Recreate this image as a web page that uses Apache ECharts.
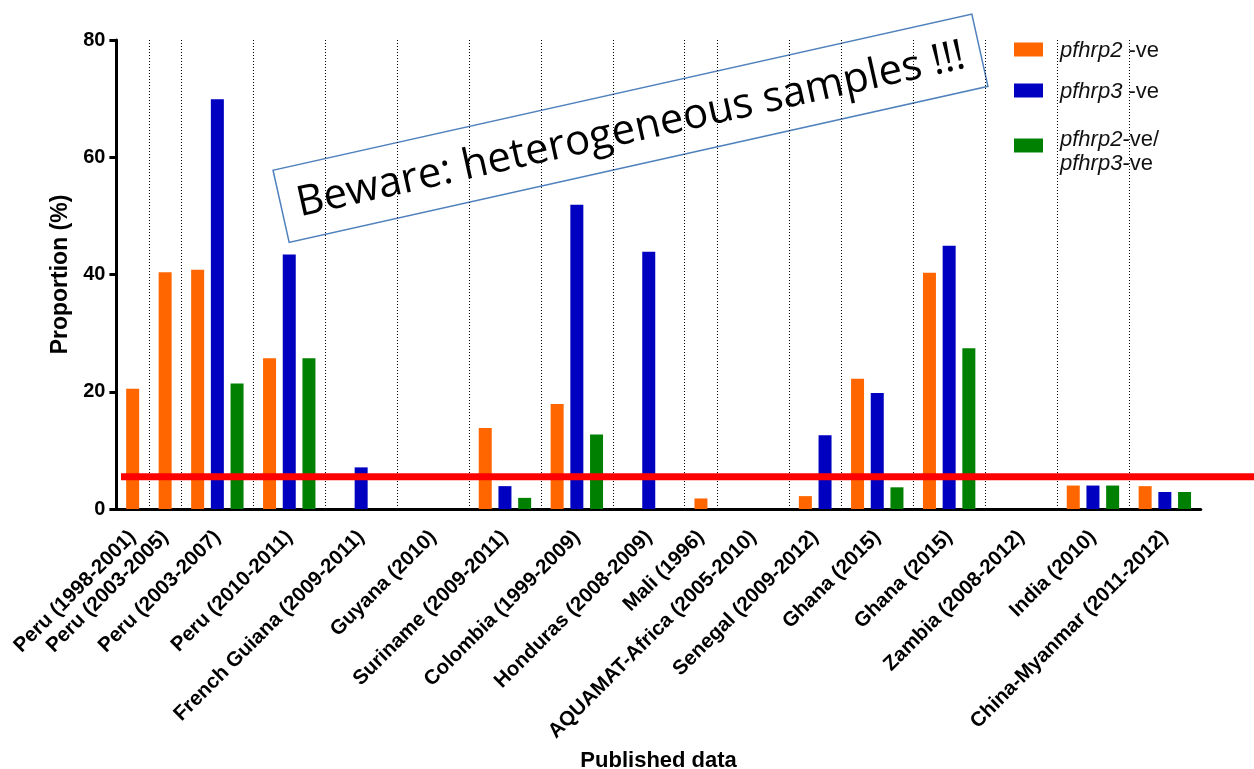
<!DOCTYPE html>
<html><head><meta charset="utf-8">
<script src="https://cdn.jsdelivr.net/npm/echarts@6/dist/echarts.min.js"></script>
<style>html,body{margin:0;padding:0;background:#fff}#c{width:1254px;height:769px}</style>
</head><body><div id="c"></div>
<script>
// ---- data ----
const categories = ['Peru (1998-2001)', 'Peru (2003-2005)', 'Peru (2003-2007)', 'Peru (2010-2011)',
  'French Guiana (2009-2011)', 'Guyana (2010)', 'Suriname (2009-2011)', 'Colombia (1999-2009)',
  'Honduras (2008-2009)', 'Mali (1996)', 'AQUAMAT-Africa (2005-2010)', 'Senegal (2009-2012)',
  'Ghana (2015)', 'Ghana (2015)', 'Zambia (2008-2012)', 'India (2010)', 'China-Myanmar (2011-2012)'];
const groupSlots = [1, 1, 3, 3, 3, 3, 3, 3, 3, 1, 3, 2, 3, 3, 3, 3, 3];
const pfhrp2 = [20.5, 40.4, 40.8, 25.7, null, null, 13.8, 17.9, null, 1.8, null, 2.2, 22.2, 40.3, null, 4.0, 3.9];
const pfhrp3 = [null, null, 69.9, 43.4, 7.1, null, 3.9, 51.9, 43.9, null, null, 12.6, 19.8, 44.9, null, 4.0, 2.9];
const pfhrp23 = [null, null, 21.4, 25.7, null, null, 1.9, 12.7, null, null, null, null, 3.7, 27.4, null, 4.0, 2.9];
const seriesNames = ['pfhrp2 -ve', 'pfhrp3 -ve', 'pfhrp2-ve/ pfhrp3-ve'];
const yTicks = [0, 20, 40, 60, 80];
const thresholdValue = 5.5;

// ---- layout (axis units) ----
const SLOT = 19.7, PAD = 12.8;
const starts = [], centers = [];
let acc = 0;
groupSlots.forEach(n => { starts.push(acc); const w = n * SLOT + PAD; centers.push(acc + w / 2); acc += w; });
const total = acc;
const boundaries = starts.slice(1);
function barData(values, slotIdx) {
  const out = [];
  values.forEach((v, i) => {
    if (v == null) return;
    out.push([starts[i] + PAD / 2 + SLOT / 2 + slotIdx * SLOT, v]);
  });
  return out;
}
const colors = ['#FF6600', '#0000C0', '#008000'];
const FONT = 'Liberation Sans, Arial, sans-serif';

const legendRich = {
  i: { fontFamily: FONT, fontSize: 22, fontStyle: 'italic', color: '#111', lineHeight: 24 },
  r: { fontFamily: FONT, fontSize: 22, color: '#111', lineHeight: 24 }
};
function legendFormatter(name) {
  if (name === seriesNames[0]) return '{i|pfhrp2}{r| -ve}';
  if (name === seriesNames[1]) return '{i|pfhrp3}{r| -ve}';
  return '{i|pfhrp2}{r|-ve/}\n{i|pfhrp3}{r|-ve}';
}
function makeLegend(idx, top, padTop) {
  return {
    orient: 'vertical', left: 1014, top: top, padding: 0, itemWidth: 29, itemHeight: 14,
    icon: 'rect', selectedMode: false, data: [seriesNames[idx]],
    formatter: legendFormatter,
    textStyle: { padding: [padTop, 0, 0, 12], rich: legendRich }
  };
}

const chart = echarts.init(document.getElementById('c'), null, { renderer: 'canvas' });
const option = {
  animation: false,
  backgroundColor: '#fff',
  grid: { left: 116.4, top: 40, width: total, height: 469, containLabel: false, outerBoundsMode: 'none' },
  legend: [makeLegend(0, 40, 3), makeLegend(1, 81, 3), makeLegend(2, 128.5, 12)],
  xAxis: {
    type: 'value', min: 0, max: total,
    name: 'Published data', nameLocation: 'middle', nameGap: 235,
    nameTextStyle: { fontFamily: FONT, fontSize: 22, fontWeight: 'bold', color: '#000' },
    axisLine: { show: true, lineStyle: { color: '#000', width: 3 } },
    axisTick: { show: false },
    splitLine: { show: false },
    axisLabel: {
      customValues: centers, rotate: 45, margin: 25, interval: 0,
      fontFamily: FONT, fontSize: 20.5, fontWeight: 'bold', color: '#000',
      formatter: function (v) {
        let best = 0;
        centers.forEach((c, i) => { if (Math.abs(c - v) < Math.abs(centers[best] - v)) best = i; });
        return categories[best];
      }
    }
  },
  yAxis: {
    type: 'value', min: yTicks[0], max: yTicks[yTicks.length - 1], interval: 20,
    name: 'Proportion (%)', nameLocation: 'middle', nameGap: 43,
    nameTextStyle: { fontFamily: FONT, fontSize: 23, fontWeight: 'bold', color: '#000' },
    axisLine: { show: true, lineStyle: { color: '#000', width: 3 } },
    axisTick: { show: true, length: 7, lineStyle: { color: '#000', width: 3 } },
    splitLine: { show: false },
    axisLabel: { fontFamily: FONT, fontSize: 20, fontWeight: 'bold', color: '#000', margin: 11 }
  },
  series: [
    {
      name: seriesNames[0], type: 'bar', barWidth: 13, barGap: '-100%',
      itemStyle: { color: colors[0] }, data: barData(pfhrp2, 0), z: 3,
      markLine: {
        silent: true, symbol: 'none', label: { show: false },
        lineStyle: { color: '#000', type: [1, 2], width: 1 },
        data: boundaries.map(b => ({ xAxis: b })), z: 1
      }
    },
    { name: seriesNames[1], type: 'bar', barWidth: 13, barGap: '-100%', itemStyle: { color: colors[1] }, data: barData(pfhrp3, 1), z: 3 },
    { name: seriesNames[2], type: 'bar', barWidth: 13, barGap: '-100%', itemStyle: { color: colors[2] }, data: barData(pfhrp23, 2), z: 3 }
  ]
};
chart.setOption(option);

const yRed = chart.convertToPixel({ yAxisIndex: 0 }, thresholdValue);
const xRed0 = chart.convertToPixel({ xAxisIndex: 0 }, 4.6);
chart.setOption({
  graphic: [
    {
      type: 'line', z: 100, silent: true,
      shape: { x1: xRed0, y1: yRed, x2: 1254, y2: yRed },
      style: { stroke: '#FF0000', lineWidth: 7 }
    },
    {
      type: 'group', x: 630.5, y: 128.3, rotation: 0.2197, z: 110, silent: true,
      children: [
        { type: 'rect', shape: { x: -358, y: -37, width: 716, height: 74 },
          style: { fill: '#fff', stroke: '#4F81BD', lineWidth: 1.5 } },
        { type: 'text', x: 0, y: 2,
          style: { text: 'Beware: heterogeneous samples !!!', font: '42px "Open Sans", sans-serif',
                   fill: '#000', align: 'center', verticalAlign: 'middle' } }
      ]
    }
  ]
});
</script>
</body></html>
